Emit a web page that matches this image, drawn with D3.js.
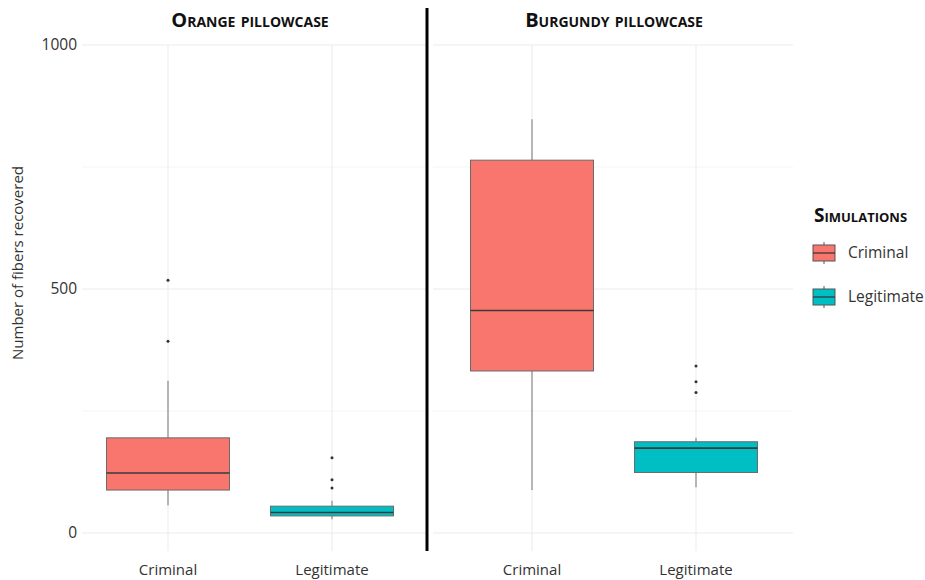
<!DOCTYPE html>
<meta charset="utf-8">
<style>
body { margin: 0; background: #fff; }
text { font-family: "Open Sans", sans-serif; fill: #333; }
.grid-major { stroke: #ebebeb; stroke-width: 1; }
.grid-minor { stroke: #f5f5f5; stroke-width: 1; }
.strip { font-weight: bold; font-variant: small-caps; font-size: 20px; fill: #111; }
</style>
<svg width="925" height="580"></svg>
<script src="https://cdn.jsdelivr.net/npm/d3@7"></script>
<script>
// data
var panels = ["Orange pillowcase", "Burgundy pillowcase"];
var simulations = ["Criminal", "Legitimate"];
var lowerWhisker  = [[57, 28],   [88, 94]];
var lowerQuartile = [[88, 35],   [332, 124]];
var medians       = [[123, 42],  [456, 174]];
var upperQuartile = [[195, 55],  [764, 187]];
var upperWhisker  = [[312, 66],  [848, 195]];
var outliers      = [[[518, 393], [154, 109, 92]], [[], [342, 310, 288]]];
var yTicks = [0, 500, 1000];
var yMinor = [250, 750];

var svg = d3.select("svg");

var colour = d3.scaleOrdinal().domain(simulations).range(["#F8766D", "#00BFC4"]);

// y scale shared by both panels
var y = d3.scaleLinear().domain([0, 1000]).range([533, 45]);
var panelTop = 45, panelBottom = 551;

// panel placement
var panelPos = d3.scalePoint().domain(panels).range([168, 532]);
var x = d3.scalePoint().domain(simulations).range([0, 164]);
var step = x.step();
var boxW = step * 0.75;
var panelExtent = [[82, 427], [433, 793]];

panels.forEach(function(p, pi) {
  var g = svg.append("g").attr("transform", "translate(" + panelPos(p) + ",0)");
  var x0 = panelExtent[pi][0] - panelPos(p), x1 = panelExtent[pi][1] - panelPos(p);

  // grid
  g.selectAll(".grid-minor").data(yMinor).enter().append("line")
      .attr("class", "grid-minor")
      .attr("x1", x0).attr("x2", x1)
      .attr("y1", function(d) { return y(d); }).attr("y2", function(d) { return y(d); });
  g.selectAll(".grid-major.h").data(yTicks).enter().append("line")
      .attr("class", "grid-major h")
      .attr("x1", x0).attr("x2", x1)
      .attr("y1", function(d) { return y(d); }).attr("y2", function(d) { return y(d); });
  g.selectAll(".grid-major.v").data(simulations).enter().append("line")
      .attr("class", "grid-major v")
      .attr("x1", function(d) { return x(d); }).attr("x2", function(d) { return x(d); })
      .attr("y1", panelTop).attr("y2", panelBottom);

  // strip title
  g.append("text")
      .attr("class", "strip")
      .attr("x", (x(simulations[0]) + x(simulations[1])) / 2)
      .attr("y", 27)
      .attr("text-anchor", "middle")
      .text(p);

  // boxes
  simulations.forEach(function(s, si) {
    var cx = x(s);
    var b = g.append("g");
    b.append("line")
        .attr("x1", cx).attr("x2", cx)
        .attr("y1", y(upperWhisker[pi][si])).attr("y2", y(upperQuartile[pi][si]))
        .attr("stroke", "#8a8a8a").attr("stroke-width", 1.2);
    b.append("line")
        .attr("x1", cx).attr("x2", cx)
        .attr("y1", y(lowerQuartile[pi][si])).attr("y2", y(lowerWhisker[pi][si]))
        .attr("stroke", "#8a8a8a").attr("stroke-width", 1.2);
    b.append("rect")
        .attr("x", cx - boxW / 2)
        .attr("width", boxW)
        .attr("y", y(upperQuartile[pi][si]))
        .attr("height", y(lowerQuartile[pi][si]) - y(upperQuartile[pi][si]))
        .attr("fill", colour(s))
        .attr("stroke", "#6b6b6b").attr("stroke-width", 1);
    b.append("line")
        .attr("x1", cx - boxW / 2).attr("x2", cx + boxW / 2)
        .attr("y1", y(medians[pi][si])).attr("y2", y(medians[pi][si]))
        .attr("stroke", "#3a3a3a").attr("stroke-width", 1.6);
    b.selectAll("circle").data(outliers[pi][si]).enter().append("circle")
        .attr("cx", cx)
        .attr("cy", function(d) { return y(d); })
        .attr("r", 1.5)
        .attr("fill", "#333");
  });

  // x tick labels
  g.selectAll(".xlab").data(simulations).enter().append("text")
      .attr("x", function(d) { return x(d); })
      .attr("y", 575)
      .attr("text-anchor", "middle")
      .style("font-size", "15px")
      .text(function(d) { return d; });
});

// y axis labels
svg.selectAll(".ylab").data(yTicks).enter().append("text")
    .attr("x", 77)
    .attr("y", function(d) { return y(d); })
    .attr("dy", "0.35em")
    .attr("text-anchor", "end")
    .style("font-size", "15.5px")
    .text(function(d) { return d; });

svg.append("text")
    .attr("transform", "translate(23,263) rotate(-90)")
    .attr("text-anchor", "middle")
    .style("font-size", "15px")
    .text("Number of fibers recovered");

// panel divider
svg.append("line")
    .attr("x1", 427).attr("x2", 427)
    .attr("y1", 8).attr("y2", panelBottom)
    .attr("stroke", "#000").attr("stroke-width", 3);

// legend
var legend = svg.append("g").attr("transform", "translate(813,0)");
legend.append("text")
    .attr("x", 1).attr("y", 222)
    .attr("class", "strip")
    .style("font-size", "19px")
    .text("Simulations");

var key = legend.selectAll(".key").data(simulations).enter().append("g")
    .attr("transform", function(d, i) { return "translate(0," + (253 + i * 44) + ")"; });
key.append("line")
    .attr("x1", 11).attr("x2", 11).attr("y1", -11).attr("y2", 11)
    .attr("stroke", "#555").attr("stroke-width", 1);
key.append("rect")
    .attr("x", 0).attr("y", -8).attr("width", 22).attr("height", 16)
    .attr("fill", function(d) { return colour(d); })
    .attr("stroke", "#555");
key.append("line")
    .attr("x1", 0).attr("x2", 22).attr("y1", 0).attr("y2", 0)
    .attr("stroke", "#333").attr("stroke-width", 1.2);
key.append("text")
    .attr("x", 35).attr("y", 0).attr("dy", "0.35em")
    .style("font-size", "15.5px")
    .text(function(d) { return d; });
</script>
